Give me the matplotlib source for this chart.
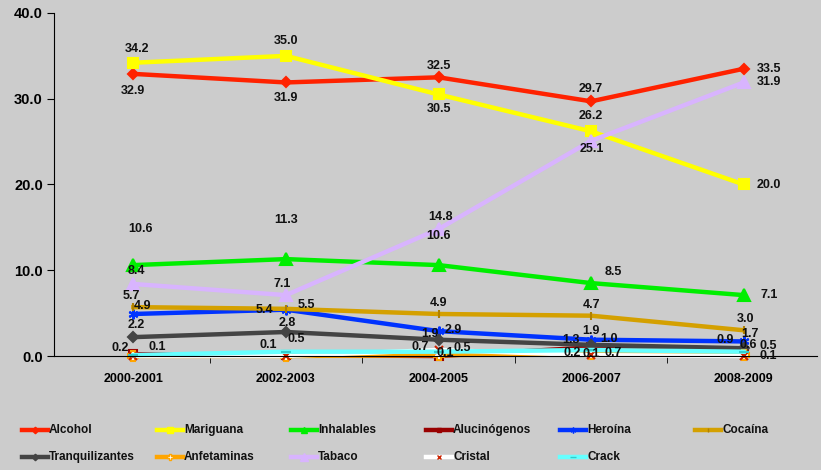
import numpy as np
import matplotlib.pyplot as plt
from matplotlib.lines import Line2D

periods = ['2000-2001', '2002-2003', '2004-2005', '2006-2007', '2008-2009']

alcohol = [32.9, 31.9, 32.5, 29.7, 33.5]
mariguana = [34.2, 35.0, 30.5, 26.2, 20.0]
inhalables = [10.6, 11.3, 10.6, 8.5, 7.1]
alucinogenos = [0.2, 0.1, 0.0, 1.0, 0.6]
heroina = [4.9, 5.4, 2.9, 1.9, 1.7]
cocaina = [5.7, 5.5, 4.9, 4.7, 3.0]
tranquilizantes = [2.2, 2.8, 1.9, 1.3, 0.9]
anfetaminas = [0.0, 0.0, 0.1, 0.2, 0.1]
tabaco = [8.4, 7.1, 14.8, 25.1, 31.9]
cristal = [0.0, 0.0, 0.7, 0.1, 0.0]
crack = [0.1, 0.5, 0.5, 0.7, 0.5]

# name, values, line colour, marker, marker face, marker edge, marker size
series = [
    ('Alcohol', alcohol, '#ff2200', 'D', '#ff2200', '#ff2200', 5.5),
    ('Mariguana', mariguana, '#ffff00', 's', '#ffff00', '#ffff00', 7.5),
    ('Inhalables', inhalables, '#00ee00', '^', '#00ee00', '#00ee00', 8),
    ('Alucinógenos', alucinogenos, '#990000', 's', '#990000', '#990000', 6),
    ('Heroína', heroina, '#0033ff', (6, 2, 0), '#0033ff', '#0033ff', 7),
    ('Cocaína', cocaina, '#d4a000', '|', '#d4a000', '#b08000', 6),
    ('Tranquilizantes', tranquilizantes, '#444444', 'D', '#444444', '#444444', 5.5),
    ('Anfetaminas', anfetaminas, '#ffa500', 'P', '#ffffff', '#ffa500', 7),
    ('Tabaco', tabaco, '#d8b4fe', '^', '#d8b4fe', '#d8b4fe', 9),
    ('Cristal', cristal, '#ffffff', 'x', '#cc2200', '#cc2200', 6),
    ('Crack', crack, '#66ffff', '_', '#33cccc', '#33cccc', 7),
]

# label offsets in pixels (dx, dy) per point
offsets = {
    'Alcohol': [(0, -17), (0, -16), (0, 11), (0, 12), (25, 0)],
    'Mariguana': [(4, 14), (0, 15), (0, -15), (0, 15), (25, 0)],
    'Inhalables': [(7, 36), (0, 39), (0, 29), (22, 11), (25, 0)],
    'Alucinógenos': [(-13, 6), (-18, 10), (0, 0), (18, 8), (4, 6)],
    'Heroína': [(9, 8), (-21, 0), (15, 1), (0, 9), (6, 7)],
    'Cocaína': [(-2, 11), (20, 4), (0, 11), (0, 11), (2, 11)],
    'Tranquilizantes': [(3, 12), (1, 9), (-9, 6), (-20, 5), (-19, 8)],
    'Anfetaminas': [(0, 0), (0, 0), (7, 2), (-19, 1), (24, -1)],
    'Tabaco': [(3, 13), (-4, 11), (2, 12), (1, -8), (25, 0)],
    'Cristal': [(0, 0), (0, 0), (-18, 3), (0, 1), (0, 0)],
    'Crack': [(24, 8), (10, 13), (24, 4), (22, -3), (24, 6)],
}

plt.rcParams['font.family'] = ['Liberation Sans', 'DejaVu Sans']
plt.rcParams['font.weight'] = 'bold'

fig = plt.figure(figsize=(8.21, 4.70), dpi=100)
fig.patch.set_facecolor('#cccccc')
ax = fig.add_axes([54 / 821, (470 - 356) / 470, (817 - 54) / 821, (356 - 13) / 470])
ax.set_facecolor('#cccccc')

x = np.arange(len(periods))
for name, vals, col, mk, mfc, mec, ms in series:
    ax.plot(x, vals, color=col, lw=3.2, marker=mk, mfc=mfc, mec=mec, ms=ms, mew=1.5,
            solid_joinstyle='round', clip_on=False)

for name, vals, col, mk, mfc, mec, ms in series:
    for i, v in enumerate(vals):
        if v <= 0:
            continue
        dx, dy = offsets[name][i]
        ax.annotate(f'{v:.1f}', (x[i], v), xytext=(dx, dy), textcoords='offset pixels',
                    ha='center', va='center', fontsize=9, fontweight='bold', color='#111111')

ax.set_xlim(-0.52, 4.48)
ax.set_ylim(0, 40)
ax.set_yticks([0, 10, 20, 30, 40])
ax.set_yticklabels([f'{t:.1f}' for t in [0, 10, 20, 30, 40]], fontsize=10.5, fontweight='bold')
ax.set_xticks(x)
ax.set_xticklabels(periods, fontsize=9, fontweight='bold')
ax.set_xticks(np.arange(0.5, 4.5, 1), minor=True)
ax.tick_params(axis='x', which='major', length=0, pad=12)
ax.tick_params(axis='x', which='minor', length=5, direction='out', color='black')
ax.tick_params(axis='y', length=5, direction='out', color='black', pad=3)
for s in ['top', 'right']:
    ax.spines[s].set_visible(False)
ax.spines['left'].set_color('black')
ax.spines['bottom'].set_color('black')

# legend, row-major, 6 columns
col_x = [22, 157, 291, 426, 560, 695]
row_y = [430, 457]
for k, (name, vals, col, mk, mfc, mec, ms) in enumerate(series):
    r, c = divmod(k, 6)
    x0 = col_x[c] / 821
    y0 = 1 - row_y[r] / 470
    fig.add_artist(Line2D([x0, x0 + 26 / 821], [y0, y0], color=col, lw=3.2))
    fig.add_artist(Line2D([x0 + 13 / 821], [y0], marker=mk, mfc=mfc, mec=mec,
                          ms=ms * 0.6, mew=1.0, lw=0))
    fig.text(x0 + 27 / 821, y0, name, fontsize=8.5, fontweight='bold', va='center',
             ha='left', color='#111111')

fig.savefig('out.png', dpi=100, facecolor=fig.get_facecolor())
